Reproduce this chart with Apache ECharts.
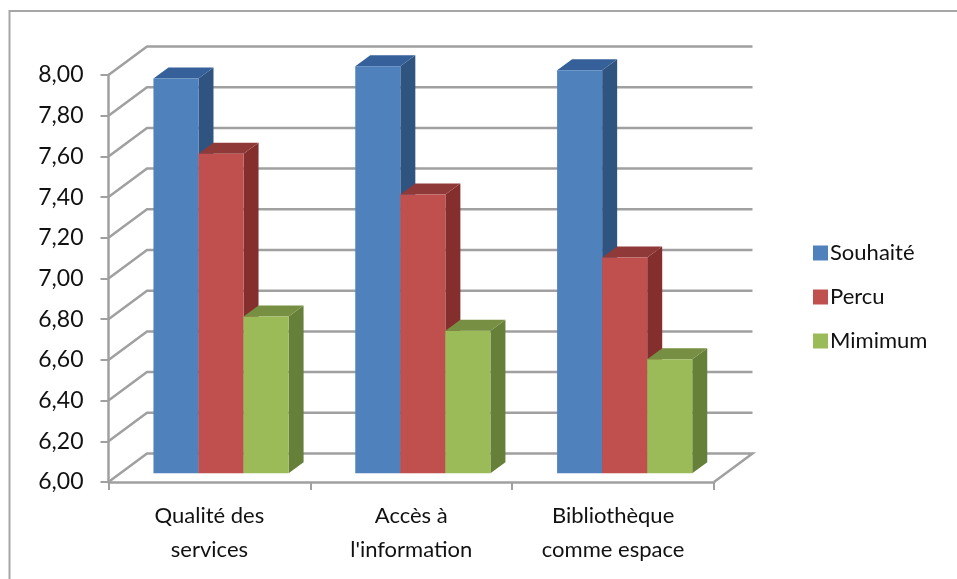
<!DOCTYPE html>
<html>
<head>
<meta charset="utf-8">
<style>html,body{margin:0;padding:0;background:#fff}#chart{width:957px;height:579px}</style>
<script src="https://cdn.jsdelivr.net/npm/echarts@6/dist/echarts.min.js"></script>
</head>
<body>
<div id="chart"></div>
<script>
const categories = ['Qualité des\nservices', "Accès à\nl'information", 'Bibliothèque\ncomme espace'];
const souhaite = [7.94, 8.00, 7.98];
const percu = [7.57, 7.37, 7.06];
const mimimum = [6.77, 6.70, 6.56];
const yTicks = [6.0, 6.2, 6.4, 6.6, 6.8, 7.0, 7.2, 7.4, 7.6, 7.8, 8.0];

// Pseudo-3D geometry: depth of the box, and the plane the bars stand in.
const WALL_DX = 38.5, WALL_DY = -28.5;
const BAR_SHIFT_X = 11.6, BAR_SHIFT_Y = -8.7;
const BAR_DX = 15, BAR_DY = -11;
const BAR_FRACTION = 0.2232;
const GRID_COLOR = '#a0a0a0';

// Back wall and side wall rules, one per value tick, plus the floor edge.
function renderWall(params, api) {
  const rect = params.coordSys;
  const y = api.coord([0, api.value(1)])[1];
  const x0 = rect.x, x1 = rect.x + rect.width;
  const style = { stroke: GRID_COLOR, lineWidth: 2.5, fill: null };
  const points = [[x0, y], [x0 + WALL_DX, y + WALL_DY], [x1 + WALL_DX, y + WALL_DY]];
  if (api.value(1) === yTicks[0]) points.push([x1, y]);
  return { type: 'polyline', shape: { points }, style };
}

// One extruded bar: front, top and side faces.
function barRenderer(slot, front, top, side) {
  return function (params, api) {
    const cat = api.value(0);
    const base = api.coord([cat, yTicks[0]]);
    const tip = api.coord([cat, api.value(1)]);
    const w = api.size([1, 0])[0] * BAR_FRACTION;
    const left = base[0] + BAR_SHIFT_X + (slot - 1.5) * w;
    const right = left + w;
    const yb = base[1] + BAR_SHIFT_Y;
    const yt = tip[1] + BAR_SHIFT_Y;
    return {
      type: 'group',
      children: [
        { type: 'polygon', shape: { points: [[right, yb], [right + BAR_DX, yb + BAR_DY], [right + BAR_DX, yt + BAR_DY], [right, yt]] }, style: { fill: side } },
        { type: 'polygon', shape: { points: [[left, yt], [left + BAR_DX, yt + BAR_DY], [right + BAR_DX, yt + BAR_DY], [right, yt]] }, style: { fill: top } },
        { type: 'rect', shape: { x: left, y: yt, width: w, height: yb - yt }, style: { fill: front } }
      ]
    };
  };
}

function barSeries(name, values, slot, front, top, side) {
  return {
    name,
    type: 'custom',
    renderItem: barRenderer(slot, front, top, side),
    encode: { x: 0, y: 1 },
    itemStyle: { color: front },
    data: values.map((v, i) => [i, v]),
    silent: true
  };
}

const chart = echarts.init(document.getElementById('chart'), null, { renderer: 'canvas' });
chart.setOption({
  animation: false,
  backgroundColor: '#ffffff',
  textStyle: { fontFamily: 'Lato' },
  grid: { left: 108.5, right: 243, top: 75, bottom: 97 },
  legend: {
    orient: 'vertical',
    left: 808,
    top: 237,
    itemWidth: 15,
    itemHeight: 15,
    itemGap: 22,
    icon: 'rect',
    selectedMode: false,
    data: ['Souhaité', 'Percu', 'Mimimum'],
    textStyle: { fontFamily: 'Lato', fontSize: 22, color: '#111111', padding: [0, 0, 0, -3] }
  },
  xAxis: {
    type: 'category',
    data: categories,
    axisLine: { lineStyle: { color: GRID_COLOR, width: 2.5 } },
    axisTick: { show: true, alignWithLabel: false, length: 8, lineStyle: { color: GRID_COLOR, width: 2 } },
    axisLabel: { color: '#111111', fontSize: 22, lineHeight: 34, margin: 17, fontFamily: 'Lato' }
  },
  yAxis: {
    type: 'value',
    min: 6,
    max: 8,
    interval: 0.2,
    splitLine: { show: false },
    axisLine: { show: true, lineStyle: { color: GRID_COLOR, width: 2.5 } },
    axisTick: { show: true, length: 8, lineStyle: { color: GRID_COLOR, width: 2 } },
    axisLabel: {
      color: '#111111',
      fontSize: 23,
      margin: 25,
      fontFamily: 'Lato',
      formatter: v => v.toFixed(2).replace('.', ',')
    }
  },
  series: [
    { type: 'custom', renderItem: renderWall, encode: { x: 0, y: 1 }, data: yTicks.map(v => [0, v]), silent: true, z: 1 },
    barSeries('Souhaité', souhaite, 0, '#4f81bd', '#36609a', '#2f5480'),
    barSeries('Percu', percu, 1, '#c0504d', '#8f3a38', '#842f2d'),
    barSeries('Mimimum', mimimum, 2, '#9bbb59', '#768f42', '#66803a')
  ],
  graphic: [
    // Chart-area frame along the top and left edges.
    { type: 'polyline', silent: true, shape: { points: [[9.5, 579], [9.5, 11], [957, 11]] }, style: { stroke: '#a6a6a6', lineWidth: 2, fill: null } }
  ]
});
</script>
</body>
</html>
